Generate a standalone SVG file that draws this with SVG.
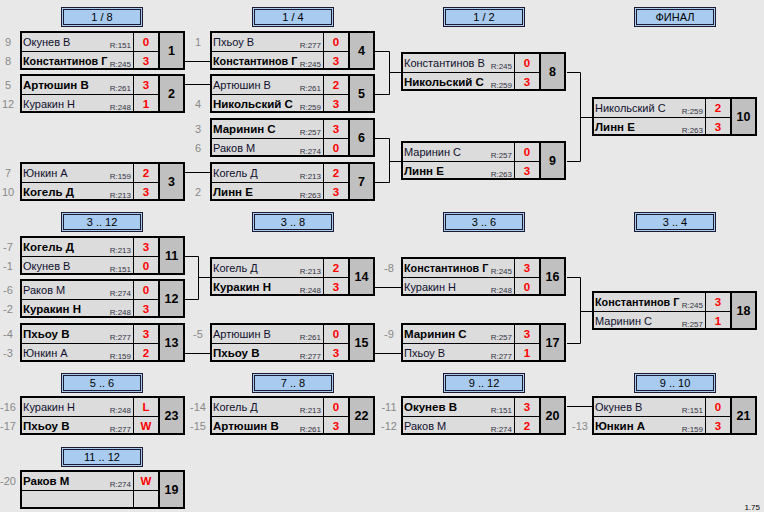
<svg xmlns="http://www.w3.org/2000/svg" width="764" height="512" viewBox="0 0 764 512">
<style>
text{font-family:"Liberation Sans",Arial,sans-serif}
.cell{fill:#dcdcdc}
.nm{font-size:11px;fill:#10102e}
.b{font-weight:bold;fill:#000;font-size:11.5px}
.lg{font-size:10.8px}
.rt{font-size:8px;fill:#333344;text-anchor:end}
.sc{font-size:11.5px;font-weight:bold;fill:#ff0000;text-anchor:middle}
.no{font-size:12.5px;font-weight:bold;fill:#000;text-anchor:middle}
.sd{font-size:11px;fill:#888;text-anchor:middle}
.hd{font-size:11px;fill:#000;text-anchor:middle}
.hb{fill:#a9cbf0;stroke:#1a1a30;stroke-width:1}
.hi{fill:none;stroke:#1a1a30;stroke-width:1}
.ln{fill:none;stroke:#000;stroke-width:1}
</style>
<defs>
<g id="frame">
<rect width="165" height="39" fill="#000"/>
<rect x="2" y="2" width="111" height="18" class="cell"/>
<rect x="2" y="21" width="111" height="16" class="cell"/>
<rect x="114" y="2" width="24" height="18" class="cell"/>
<rect x="114" y="21" width="24" height="16" class="cell"/>
<rect x="140" y="2" width="23" height="35" fill="#c0c0c0"/>
</g>
<g id="hdr">
<rect x="0.5" y="0.5" width="81" height="19" class="hb"/>
<rect x="2.5" y="2.5" width="77" height="15" class="hi"/>
</g>
</defs>
<rect width="764" height="512" fill="#e8e8e8"/>

<g id="headers">
<g transform="translate(61,7)"><use href="#hdr"/><text x="41" y="14" class="hd">1 / 8</text></g>
<g transform="translate(252,7)"><use href="#hdr"/><text x="41" y="14" class="hd">1 / 4</text></g>
<g transform="translate(443,7)"><use href="#hdr"/><text x="41" y="14" class="hd">1 / 2</text></g>
<g transform="translate(634,7)"><use href="#hdr"/><text x="41" y="14" class="hd">ФИНАЛ</text></g>
<g transform="translate(61,212)"><use href="#hdr"/><text x="41" y="14" class="hd">3 .. 12</text></g>
<g transform="translate(252,212)"><use href="#hdr"/><text x="41" y="14" class="hd">3 .. 8</text></g>
<g transform="translate(443,212)"><use href="#hdr"/><text x="41" y="14" class="hd">3 .. 6</text></g>
<g transform="translate(634,212)"><use href="#hdr"/><text x="41" y="14" class="hd">3 .. 4</text></g>
<g transform="translate(61,373)"><use href="#hdr"/><text x="41" y="14" class="hd">5 .. 6</text></g>
<g transform="translate(252,373)"><use href="#hdr"/><text x="41" y="14" class="hd">7 .. 8</text></g>
<g transform="translate(443,373)"><use href="#hdr"/><text x="41" y="14" class="hd">9 .. 12</text></g>
<g transform="translate(634,373)"><use href="#hdr"/><text x="41" y="14" class="hd">9 .. 10</text></g>
<g transform="translate(61,447)"><use href="#hdr"/><text x="41" y="14" class="hd">11 .. 12</text></g>
</g>

<g id="connectors">
<path class="ln" d="M185 61.5H210M185 84.5H210M185 172.5H210"/>
<path class="ln" d="M375 51.5H389.5V94.5H375M389.5 72.5H401"/>
<path class="ln" d="M375 138.5H389.5V182.5H375M389.5 161.5H401"/>
<path class="ln" d="M567 72.5H580.5V161.5H567M580.5 117.5H592"/>
<path class="ln" d="M185 256.5H198.5V299.5H185M198.5 277.5H210"/>
<path class="ln" d="M185 353.5H210"/>
<path class="ln" d="M375 287.5H401M375 353.5H401"/>
<path class="ln" d="M567 277.5H580.5V343.5H567M580.5 311.5H592"/>
<path class="ln" d="M567 406.5H592"/>
</g>

<g id="seeds">
<text x="8" y="46" class="sd">9</text><text x="8" y="65" class="sd">8</text>
<text x="8" y="89" class="sd">5</text><text x="8" y="108" class="sd">12</text>
<text x="8" y="177" class="sd">7</text><text x="8" y="196" class="sd">10</text>
<text x="198" y="46" class="sd">1</text>
<text x="198" y="108" class="sd">4</text>
<text x="198" y="133" class="sd">3</text><text x="198" y="152" class="sd">6</text>
<text x="198" y="196" class="sd">2</text>
<text x="8" y="251" class="sd">-7</text><text x="8" y="270" class="sd">-1</text>
<text x="8" y="294" class="sd">-6</text><text x="8" y="313" class="sd">-2</text>
<text x="8" y="338" class="sd">-4</text><text x="8" y="357" class="sd">-3</text>
<text x="198" y="338" class="sd">-5</text>
<text x="389" y="272" class="sd">-8</text>
<text x="389" y="338" class="sd">-9</text>
<text x="8" y="411" class="sd">-16</text><text x="8" y="430" class="sd">-17</text>
<text x="198" y="411" class="sd">-14</text><text x="198" y="430" class="sd">-15</text>
<text x="389" y="411" class="sd">-11</text><text x="389" y="430" class="sd">-12</text>
<text x="580" y="430" class="sd">-13</text>
<text x="8" y="485" class="sd">-20</text>
</g>

<g id="m1" transform="translate(20,31)"><use href="#frame"/>
<text x="3" y="15" class="nm">Окунев В</text><text x="111" y="17" class="rt">R:151</text><text x="126" y="15" class="sc">0</text>
<text x="3" y="34" class="nm b lg">Константинов Г</text><text x="111" y="35.5" class="rt">R:245</text><text x="126" y="34" class="sc">3</text>
<text x="151.5" y="24" class="no">1</text></g>

<g id="m2" transform="translate(20,74)"><use href="#frame"/>
<text x="3" y="15" class="nm b">Артюшин В</text><text x="111" y="17" class="rt">R:261</text><text x="126" y="15" class="sc">3</text>
<text x="3" y="34" class="nm">Куракин Н</text><text x="111" y="35.5" class="rt">R:248</text><text x="126" y="34" class="sc">1</text>
<text x="151.5" y="24" class="no">2</text></g>

<g id="m3" transform="translate(20,162)"><use href="#frame"/>
<text x="3" y="15" class="nm">Юнкин А</text><text x="111" y="17" class="rt">R:159</text><text x="126" y="15" class="sc">2</text>
<text x="3" y="34" class="nm b">Когель Д</text><text x="111" y="35.5" class="rt">R:213</text><text x="126" y="34" class="sc">3</text>
<text x="151.5" y="24" class="no">3</text></g>

<g id="m4" transform="translate(210,31)"><use href="#frame"/>
<text x="3" y="15" class="nm">Пхьоу В</text><text x="111" y="17" class="rt">R:277</text><text x="126" y="15" class="sc">0</text>
<text x="3" y="34" class="nm b lg">Константинов Г</text><text x="111" y="35.5" class="rt">R:245</text><text x="126" y="34" class="sc">3</text>
<text x="151.5" y="24" class="no">4</text></g>

<g id="m5" transform="translate(210,74)"><use href="#frame"/>
<text x="3" y="15" class="nm">Артюшин В</text><text x="111" y="17" class="rt">R:261</text><text x="126" y="15" class="sc">2</text>
<text x="3" y="34" class="nm b">Никольский С</text><text x="111" y="35.5" class="rt">R:259</text><text x="126" y="34" class="sc">3</text>
<text x="151.5" y="24" class="no">5</text></g>

<g id="m6" transform="translate(210,118)"><use href="#frame"/>
<text x="3" y="15" class="nm b">Маринин С</text><text x="111" y="17" class="rt">R:257</text><text x="126" y="15" class="sc">3</text>
<text x="3" y="34" class="nm">Раков М</text><text x="111" y="35.5" class="rt">R:274</text><text x="126" y="34" class="sc">0</text>
<text x="151.5" y="24" class="no">6</text></g>

<g id="m7" transform="translate(210,162)"><use href="#frame"/>
<text x="3" y="15" class="nm">Когель Д</text><text x="111" y="17" class="rt">R:213</text><text x="126" y="15" class="sc">2</text>
<text x="3" y="34" class="nm b">Линн Е</text><text x="111" y="35.5" class="rt">R:263</text><text x="126" y="34" class="sc">3</text>
<text x="151.5" y="24" class="no">7</text></g>

<g id="m8" transform="translate(401,52)"><use href="#frame"/>
<text x="3" y="15" class="nm">Константинов В</text><text x="111" y="17" class="rt">R:245</text><text x="126" y="15" class="sc">0</text>
<text x="3" y="34" class="nm b">Никольский С</text><text x="111" y="35.5" class="rt">R:259</text><text x="126" y="34" class="sc">3</text>
<text x="151.5" y="24" class="no">8</text></g>

<g id="m9" transform="translate(401,141)"><use href="#frame"/>
<text x="3" y="15" class="nm">Маринин С</text><text x="111" y="17" class="rt">R:257</text><text x="126" y="15" class="sc">0</text>
<text x="3" y="34" class="nm b">Линн Е</text><text x="111" y="35.5" class="rt">R:263</text><text x="126" y="34" class="sc">3</text>
<text x="151.5" y="24" class="no">9</text></g>

<g id="m10" transform="translate(592,97)"><use href="#frame"/>
<text x="3" y="15" class="nm">Никольский С</text><text x="111" y="17" class="rt">R:259</text><text x="126" y="15" class="sc">2</text>
<text x="3" y="34" class="nm b">Линн Е</text><text x="111" y="35.5" class="rt">R:263</text><text x="126" y="34" class="sc">3</text>
<text x="151.5" y="24" class="no">10</text></g>

<g id="m11" transform="translate(20,236)"><use href="#frame"/>
<text x="3" y="15" class="nm b">Когель Д</text><text x="111" y="17" class="rt">R:213</text><text x="126" y="15" class="sc">3</text>
<text x="3" y="34" class="nm">Окунев В</text><text x="111" y="35.5" class="rt">R:151</text><text x="126" y="34" class="sc">0</text>
<text x="151.5" y="24" class="no">11</text></g>

<g id="m12" transform="translate(20,279)"><use href="#frame"/>
<text x="3" y="15" class="nm">Раков М</text><text x="111" y="17" class="rt">R:274</text><text x="126" y="15" class="sc">0</text>
<text x="3" y="34" class="nm b">Куракин Н</text><text x="111" y="35.5" class="rt">R:248</text><text x="126" y="34" class="sc">3</text>
<text x="151.5" y="24" class="no">12</text></g>

<g id="m13" transform="translate(20,323)"><use href="#frame"/>
<text x="3" y="15" class="nm b">Пхьоу В</text><text x="111" y="17" class="rt">R:277</text><text x="126" y="15" class="sc">3</text>
<text x="3" y="34" class="nm">Юнкин А</text><text x="111" y="35.5" class="rt">R:159</text><text x="126" y="34" class="sc">2</text>
<text x="151.5" y="24" class="no">13</text></g>

<g id="m14" transform="translate(210,257)"><use href="#frame"/>
<text x="3" y="15" class="nm">Когель Д</text><text x="111" y="17" class="rt">R:213</text><text x="126" y="15" class="sc">2</text>
<text x="3" y="34" class="nm b">Куракин Н</text><text x="111" y="35.5" class="rt">R:248</text><text x="126" y="34" class="sc">3</text>
<text x="151.5" y="24" class="no">14</text></g>

<g id="m15" transform="translate(210,323)"><use href="#frame"/>
<text x="3" y="15" class="nm">Артюшин В</text><text x="111" y="17" class="rt">R:261</text><text x="126" y="15" class="sc">0</text>
<text x="3" y="34" class="nm b">Пхьоу В</text><text x="111" y="35.5" class="rt">R:277</text><text x="126" y="34" class="sc">3</text>
<text x="151.5" y="24" class="no">15</text></g>

<g id="m16" transform="translate(401,257)"><use href="#frame"/>
<text x="3" y="15" class="nm b lg">Константинов Г</text><text x="111" y="17" class="rt">R:245</text><text x="126" y="15" class="sc">3</text>
<text x="3" y="34" class="nm">Куракин Н</text><text x="111" y="35.5" class="rt">R:248</text><text x="126" y="34" class="sc">0</text>
<text x="151.5" y="24" class="no">16</text></g>

<g id="m17" transform="translate(401,323)"><use href="#frame"/>
<text x="3" y="15" class="nm b">Маринин С</text><text x="111" y="17" class="rt">R:257</text><text x="126" y="15" class="sc">3</text>
<text x="3" y="34" class="nm">Пхьоу В</text><text x="111" y="35.5" class="rt">R:277</text><text x="126" y="34" class="sc">1</text>
<text x="151.5" y="24" class="no">17</text></g>

<g id="m18" transform="translate(592,291)"><use href="#frame"/>
<text x="3" y="15" class="nm b lg">Константинов Г</text><text x="111" y="17" class="rt">R:245</text><text x="126" y="15" class="sc">3</text>
<text x="3" y="34" class="nm">Маринин С</text><text x="111" y="35.5" class="rt">R:257</text><text x="126" y="34" class="sc">1</text>
<text x="151.5" y="24" class="no">18</text></g>

<g id="m19" transform="translate(20,470)"><use href="#frame"/>
<text x="3" y="15" class="nm b">Раков М</text><text x="111" y="17" class="rt">R:274</text><text x="126" y="15" class="sc">W</text>
<text x="151.5" y="24" class="no">19</text></g>

<g id="m20" transform="translate(401,396)"><use href="#frame"/>
<text x="3" y="15" class="nm b">Окунев В</text><text x="111" y="17" class="rt">R:151</text><text x="126" y="15" class="sc">3</text>
<text x="3" y="34" class="nm">Раков М</text><text x="111" y="35.5" class="rt">R:274</text><text x="126" y="34" class="sc">2</text>
<text x="151.5" y="24" class="no">20</text></g>

<g id="m21" transform="translate(592,396)"><use href="#frame"/>
<text x="3" y="15" class="nm">Окунев В</text><text x="111" y="17" class="rt">R:151</text><text x="126" y="15" class="sc">0</text>
<text x="3" y="34" class="nm b">Юнкин А</text><text x="111" y="35.5" class="rt">R:159</text><text x="126" y="34" class="sc">3</text>
<text x="151.5" y="24" class="no">21</text></g>

<g id="m22" transform="translate(210,396)"><use href="#frame"/>
<text x="3" y="15" class="nm">Когель Д</text><text x="111" y="17" class="rt">R:213</text><text x="126" y="15" class="sc">0</text>
<text x="3" y="34" class="nm b">Артюшин В</text><text x="111" y="35.5" class="rt">R:261</text><text x="126" y="34" class="sc">3</text>
<text x="151.5" y="24" class="no">22</text></g>

<g id="m23" transform="translate(20,396)"><use href="#frame"/>
<text x="3" y="15" class="nm">Куракин Н</text><text x="111" y="17" class="rt">R:248</text><text x="126" y="15" class="sc">L</text>
<text x="3" y="34" class="nm b">Пхьоу В</text><text x="111" y="35.5" class="rt">R:277</text><text x="126" y="34" class="sc">W</text>
<text x="151.5" y="24" class="no">23</text></g>

<text x="760" y="510" style="font-size:8px;fill:#000;text-anchor:end">1.75</text>
</svg>
